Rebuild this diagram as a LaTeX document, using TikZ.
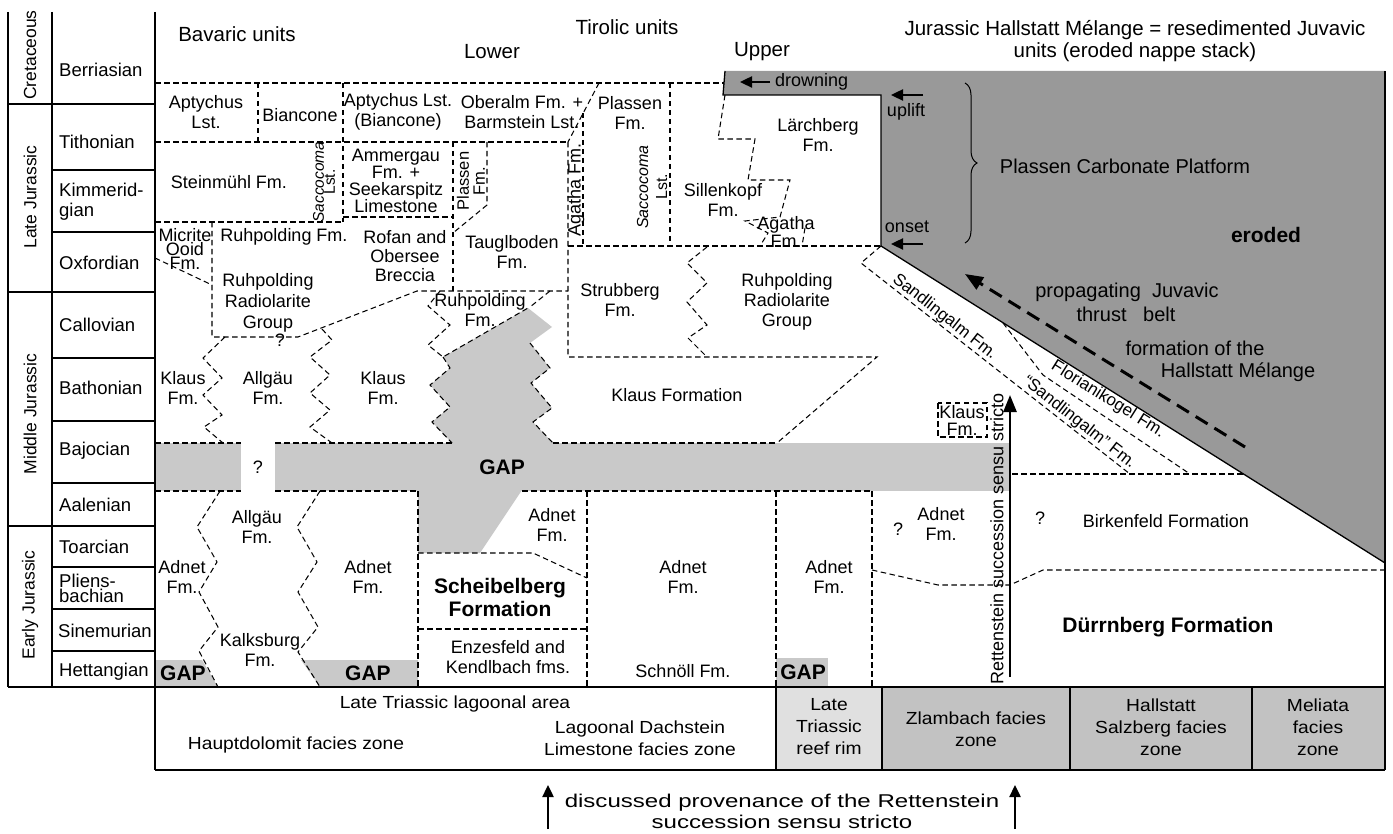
\documentclass[tikz,border=0pt]{standalone}
\usepackage{fontspec}
\setmainfont{Liberation Sans}
\newfontfamily\widefont{Liberation Sans}[FakeStretch=1.1]
\newfontfamily\widerfont{Liberation Sans}[FakeStretch=1.3]
\usetikzlibrary{arrows.meta,decorations.pathreplacing}
\newcommand{\fs}[2]{\fontsize{#1}{#2}\selectfont}
\definecolor{gapgray}{gray}{0.79}
\definecolor{erogray}{gray}{0.6}
\definecolor{rimgray}{gray}{0.88}
\definecolor{zonegray}{gray}{0.76}
\begin{document}
\begin{tikzpicture}[x=1pt,y=-1pt,
 dl/.style={line width=1.05pt, dash pattern=on 5.5pt off 3.5pt},
 sl/.style={line width=1.3pt},
 lab/.style={font=\fs{18}{20}, align=center, inner sep=0pt},
 hd/.style={font=\fs{20.5}{22}, align=center, inner sep=0pt},
 bf/.style={font=\bfseries\fs{21}{23}, align=center, inner sep=0pt},
 sm/.style={font=\fs{16}{16}, align=center, inner sep=0pt},
 nar/.style={font=\widefont\fs{17.5}{22}, align=center, inner sep=0pt},
 stg/.style={font=\fs{18.5}{20}, align=left, anchor=west, inner sep=0pt},
 per/.style={font=\fs{17.5}{20}, rotate=90, inner sep=0pt},
 blk/.style={line width=2.4pt, -{Triangle[length=12pt,width=11pt]}},
]
\useasboundingbox (0,0) rectangle (1393,834);

% ---------- fills ----------
\fill[erogray] (725,71) -- (1385,71) -- (1385,563) -- (881,246) -- (881,95) -- (723,95) -- cycle;
\fill[gapgray] (155,443) rectangle (241,491);
\fill[gapgray] (275,443) rectangle (1010,491);
\fill[gapgray] (443,357) -- (528,308) -- (552,327) -- (530,343) -- (550,368) -- (531,383) -- (552,408) -- (533,422) -- (553,443)
   -- (452,443) -- (432,422) -- (450,407) -- (430,385) -- (450,368) -- cycle;
\fill[gapgray] (418,490) -- (418,553) -- (480,553) -- (522,490) -- cycle;
\fill[gapgray] (155,660) -- (202,660) -- (218,687) -- (155,687) -- cycle;
\fill[gapgray] (301,660) -- (418,660) -- (418,687) -- (320,687) -- cycle;
\fill[gapgray] (776,658) rectangle (828,687);
\fill[rimgray] (776,687) rectangle (882,770);
\fill[zonegray] (882,687) rectangle (1385,770);

% ---------- frame ----------
\draw[sl] (8,12) -- (8,687);
\draw[sl] (52,12) -- (52,687);
\draw[sl] (155,12) -- (155,770);
\draw[sl] (8,687) -- (1385,687);
\draw[sl] (155,770) -- (1385,770);
\draw[sl] (1385,71) -- (1385,770);
\draw[sl] (776,687) -- (776,770);
\draw[sl] (882,687) -- (882,770);
\draw[sl] (1070,687) -- (1070,770);
\draw[sl] (1252,687) -- (1252,770);
\draw[sl] (8,104) -- (155,104);
\draw[sl] (52,170) -- (155,170);
\draw[sl] (52,232) -- (155,232);
\draw[sl] (8,292) -- (155,292);
\draw[sl] (52,358) -- (155,358);
\draw[sl] (52,421) -- (155,421);
\draw[sl] (52,483) -- (155,483);
\draw[sl] (8,526) -- (155,526);
\draw[sl] (52,567) -- (155,567);
\draw[sl] (52,609) -- (155,609);
\draw[sl] (52,651) -- (155,651);
\draw[sl] (725,71) -- (723,95) -- (881,95) -- (881,246) -- (1385,563);

% ---------- stage & period labels ----------
\node[stg] (sBer) at (59,70) {Berriasian};
\node[stg] (sTit) at (59,142) {Tithonian};
\node[stg] (sKim) at (59,202) {Kimmerid-\\gian};
\node[stg] (sOxf) at (59,263) {Oxfordian};
\node[stg] (sCal) at (59,325) {Callovian};
\node[stg] (sBat) at (59,388) {Bathonian};
\node[stg] (sBaj) at (59,451) {Bajocian};
\node[stg] (sAal) at (59,505) {Aalenian};
\node[stg] (sToa) at (59,547) {Toarcian};
\node[stg, font=\fs{18.5}{15}] (sPli) at (59,588) {Pliens-\\bachian};
\node[stg] (sSin) at (58,631) {Sinemurian};
\node[stg] (sHet) at (59,672) {Hettangian};
\node[per] (pCre) at (30,55) {Cretaceous};
\node[per] (pLJ) at (30,197) {Late Jurassic};
\node[per] (pMJ) at (30,414) {Middle Jurassic};
\node[per] (pEJ) at (30,605) {Early Jurassic};

% ---------- headings ----------
\node[hd] (hBav) at (237,34) {Bavaric units};
\node[hd] (hTir) at (627,27) {Tirolic units};
\node[hd] (hLow) at (492,52) {Lower};
\node[hd] (hUpp) at (762,52) {Upper};
\node[hd] (hJur) at (1135,41) {Jurassic Hallstatt Mélange = resedimented Juvavic\\units (eroded nappe stack)};

% ---------- dashed boundaries, upper part ----------
\draw[dl] (155,83) -- (724,83);
\draw[dl] (258,83) -- (258,142);
\draw[dl] (343,83) -- (343,222);
\draw[dl] (155,142) -- (568,142);
\draw[dl] (599,83) -- (568,142);
\draw[dl] (583,113) -- (583,246);
\draw[dl] (568,142) -- (568,357) -- (877,357) -- (777,443);
\draw[dl] (670,83) -- (670,246);
\draw[dl] (568,246) -- (881,246);
\draw[dl] (155,222) -- (343,222);
\draw[dl] (343,217) -- (453,217);
\draw[dl] (453,142) -- (453,291);
\draw[dl] (487,142) -- (487,205) -- (453,233);
\draw[dl] (212,222) -- (212,337) -- (298,337) -- (417,291) -- (568,291);
\draw[dl] (155,258) -- (212,285);
\draw[dl] (225,337) -- (203,358) -- (222,378) -- (203,395) -- (222,415) -- (204,427) -- (223,443);
\draw[dl] (322,329) -- (332,340) -- (310,357) -- (330,375) -- (310,393) -- (330,410) -- (310,427) -- (332,443);
\draw[dl] (440,291) -- (428,306) -- (450,325) -- (428,345) -- (443,357) -- (528,308);
\draw[dl] (550,291) -- (530,307);
\draw[dl] (443,357) -- (450,368) -- (430,385) -- (450,407) -- (432,422) -- (452,443);
\draw[dl] (530,343) -- (550,368) -- (531,383) -- (552,408) -- (533,422) -- (553,443);
\draw[dl] (707,247) -- (687,263) -- (707,283) -- (687,302) -- (707,325) -- (688,338) -- (707,357);
\draw[dl] (725,95) -- (718,139) -- (755,139) -- (748,180) -- (790,180) -- (780,217) -- (745,221) -- (768,233) -- (760,246);
\draw[dl] (805,228) -- (802,246);
% gap band borders
\draw[dl] (155,443) -- (241,443);
\draw[dl] (275,443) -- (452,443);
\draw[dl] (553,443) -- (777,443);
\draw[dl] (155,491) -- (241,491);
\draw[dl] (275,491) -- (418,491);
\draw[dl] (522,491) -- (872,491);
% lower part
\draw[dl] (220,491) -- (197,527) -- (217,562) -- (199,592) -- (218,627) -- (199,651) -- (218,687);
\draw[dl] (320,491) -- (297,527) -- (317,562) -- (298,592) -- (318,627) -- (298,652) -- (320,687);
\draw[dl] (418,491) -- (418,687);
\draw[dl] (418,553) -- (533,553) -- (587,578);
\draw[dl] (418,629) -- (587,629);
\draw[dl] (587,491) -- (587,687);
\draw[dl] (776,491) -- (776,687);
\draw[dl] (872,491) -- (872,687);
\draw[dl] (872,570) -- (938,585) -- (1010,585) -- (1043,570) -- (1385,570);
% Sandlingalm strip
\coordinate (cor) at (881,246);
\coordinate (sA) at (861,263);
\coordinate (sB) at (1130,474);
\coordinate (fA) at (1003,323);
\draw[dl] (cor) -- (sA) -- (sB);
\draw[dl] (fA) -- (1043,375) -- (1190,474);
\draw[dl] (1012,474) -- (1243,474);
\draw[dl] (938,403) rectangle (987,437);

% ---------- texts, upper ----------
\node[lab] (tApt) at (206,112) {Aptychus\\Lst.};
\node[lab] (tBia) at (300,115) {Biancone};
\node[lab] (tAptB) at (398,112) {Aptychus Lst.\\(Biancone)};
\node[lab] (tObe) at (522,112) {Oberalm Fm. +\\Barmstein Lst.};
\node[lab] (tPla) at (630,113) {Plassen\\Fm.};
\node[lab] (tLae) at (818,135) {Lärchberg\\Fm.};
\node[lab] (tSte) at (229,182) {Steinmühl Fm.};
\node[sm, rotate=90, font=\fs{15.5}{11}] (tSac1) at (324,182) {\textit{Saccocoma}\\Lst.};
\node[lab, font=\fs{18}{17}] (tAmm) at (396,181) {Ammergau\\Fm. +\\Seekarspitz\\Limestone};
\node[sm, rotate=90, font=\fs{16.5}{16}] (tPla2) at (471,181) {Plassen\\Fm.};
\node[lab, rotate=90] (tAga1) at (576,190) {Agatha Fm.};
\node[sm, rotate=90, font=\fs{16}{19}] (tSac2) at (652,187) {\textit{Saccocoma}\\Lst.};
\node[lab] (tSil) at (723,200) {Sillenkopf\\Fm.};
\node[lab, font=\fs{18}{16}] (tAga2) at (786,232) {Agatha\\Fm.};
\node[lab, font=\fs{18}{14}] (tMic) at (185,249) {Micrite\\Ooid\\Fm.};
\node[lab] (tRuh1) at (284,237) {Ruhpolding Fm.};
\node[lab, font=\fs{18}{19}] (tRof) at (405,256) {Rofan and\\Obersee\\Breccia};
\node[lab] (tTau) at (512,252) {Tauglboden\\Fm.};
\node[lab, font=\fs{18}{21}] (tRRG1) at (268,303) {Ruhpolding\\Radiolarite\\Group};
\node[lab] (tQ1) at (280,340) {?};
\node[lab] (tRuh2) at (480,310) {Ruhpolding\\Fm.};
\node[lab] (tStr) at (620,300) {Strubberg\\Fm.};
\node[lab, font=\fs{18}{20}] (tRRG2) at (787,302) {Ruhpolding\\Radiolarite\\Group};
\node[lab] (tKl1) at (183,388) {Klaus\\Fm.};
\node[lab] (tAll1) at (268,388) {Allgäu\\Fm.};
\node[lab] (tKl2) at (383,388) {Klaus\\Fm.};
\node[lab] (tKlF) at (677,395) {Klaus Formation};
\node[lab, font=\fs{18}{17}] (tKl3) at (962,420) {Klaus\\Fm.};

% ---------- texts, lower ----------
\node[lab] (tQ2) at (258,467) {?};
\node[bf] (tGap) at (502,467) {GAP};
\node[lab] (tAll2) at (257,527) {Allgäu\\Fm.};
\node[lab] (tAd1) at (182,577) {Adnet\\Fm.};
\node[lab] (tAd2) at (368,577) {Adnet\\Fm.};
\node[lab] (tKal) at (260,650) {Kalksburg\\Fm.};
\node[bf] (tGap1) at (183,673) {GAP};
\node[bf] (tGap2) at (368,673) {GAP};
\node[bf] (tGap3) at (803,672) {GAP};
\node[lab] (tAd3) at (552,525) {Adnet\\Fm.};
\node[bf] (tSch) at (500,597) {Scheibelberg\\Formation};
\node[lab] (tEnz) at (508,657) {Enzesfeld and\\Kendlbach fms.};
\node[lab] (tAd4) at (683,577) {Adnet\\Fm.};
\node[lab] (tSchn) at (683,671) {Schnöll Fm.};
\node[lab] (tAd5) at (829,577) {Adnet\\Fm.};
\node[lab] (tQ3) at (898,529) {?};
\node[lab] (tAd6) at (941,524) {Adnet\\Fm.};
\node[lab] (tQ4) at (1040,518) {?};
\node[lab] (tBir) at (1166,521) {Birkenfeld Formation};
\node[bf] (tDue) at (1168,627) {Dürrnberg Formation};

% ---------- sloped texts ----------
\path (sA) -- (sB) node[pos=0.29, sloped, above=1pt, font=\fs{17}{17}, inner sep=0pt] (tSan1) {Sandlingalm Fm.}
                   node[pos=0.79, sloped, above=1pt, font=\fs{17}{17}, inner sep=0pt] (tSan2) {“Sandlingalm” Fm.};
\path (cor) -- (1385,563) node[pos=0.46, sloped, below=1pt, font=\fs{17}{17}, inner sep=0pt] (tFlo) {Florianikogel Fm.};

% ---------- right side annotations ----------
\node[lab, font=\fs{20}{22}] (tPCP) at (1125,166) {Plassen Carbonate Platform};
\node[bf] (tEro) at (1266,235) {eroded};
\node[lab, font=\fs{20}{22}] (tProp) at (1127,292) {propagating\ \ Juvavic};
\node[lab, font=\fs{20}{22}] (tThr) at (1126,314) {thrust\ \ \ belt};
\node[lab, font=\fs{20}{22}] (tFor) at (1195,348) {formation of the};
\node[lab, font=\fs{20}{22}] (tHM) at (1238,372) {Hallstatt Mélange};
\node[lab, anchor=west] (tDro) at (775,82) {drowning};
\node[lab] (tUpl) at (906,112) {uplift};
\node[lab] (tOns) at (907,227) {onset};
\coordinate (dr1) at (770,82); \coordinate (dr2) at (740,82);
\coordinate (up1) at (923,95); \coordinate (up2) at (891,95);
\coordinate (on1) at (923,244); \coordinate (on2) at (891,244);
\draw[blk] (dr1) -- (dr2);
\draw[blk] (up1) -- (up2);
\draw[blk] (on1) -- (on2);
\draw[decorate, decoration={brace, amplitude=12pt}, line width=1pt] (965,83) -- (965,243);
\coordinate (pj1) at (1245,447); \coordinate (pj2) at (965,274);
\draw[line width=3pt, dash pattern=on 14pt off 8pt, -{Triangle[length=18pt,width=14pt]}] (pj1) -- (pj2);

% Rettenstein arrow
\coordinate (rt1) at (1010,677); \coordinate (rt2) at (1010,395);
\draw[line width=2.6pt, -{Triangle[length=17pt,width=13pt]}] (rt1) -- (rt2);
\node[lab, rotate=90] (tRet) at (997,539) {Rettenstein succession sensu stricto};

% ---------- bottom facies row ----------
\node[nar] (bLag) at (455,704) {Late Triassic lagoonal area};
\node[nar] (bHau) at (296,745) {Hauptdolomit facies zone};
\node[nar] (bDac) at (640,738) {Lagoonal Dachstein\\Limestone facies zone};
\node[nar] (bRim) at (829,727) {Late\\Triassic\\reef rim};
\node[nar] (bZla) at (976,729) {Zlambach facies\\zone};
\node[nar] (bHal) at (1161,727) {Hallstatt\\Salzberg facies\\zone};
\node[nar] (bMel) at (1318,727) {Meliata\\facies\\zone};
\node[nar, font=\widerfont\fs{18.5}{21}] (bDis) at (782,811) {discussed provenance of the Rettenstein\\succession sensu stricto};
\coordinate (ar1a) at (548,829); \coordinate (ar1b) at (548,785);
\coordinate (ar2a) at (1015,829); \coordinate (ar2b) at (1015,785);
\draw[blk] (ar1a) -- (ar1b);
\draw[blk] (ar2a) -- (ar2b);
\end{tikzpicture}
\end{document}
